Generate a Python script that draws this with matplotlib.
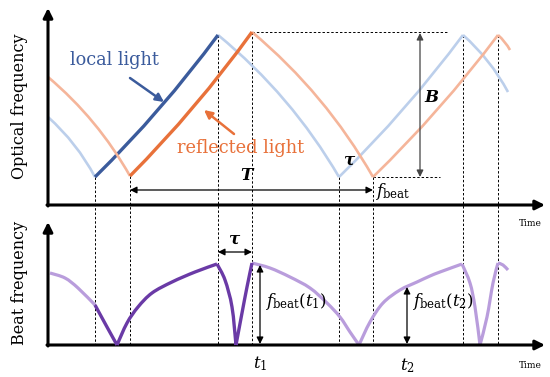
import numpy as np
import matplotlib
matplotlib.use("Agg")
import matplotlib.pyplot as plt
from matplotlib.path import Path
from matplotlib.patches import PathPatch

plt.rcParams['font.family'] = ['DejaVu Serif']
plt.rcParams['mathtext.fontset'] = 'dejavuserif'

# turning points of the two optical-frequency sweeps (time, frequency), picture units
local_t = [48, 95, 218, 339, 463, 508]
local_f = [117, 177, 35, 177, 35, 92]
refl_t = [48, 130, 252, 373, 498, 510]
refl_f = [77, 176, 32, 177, 35, 50]
local_hl = 1   # index of the highlighted segment
refl_hl = 1

# beat frequency trace
beat1_t = [50, 65, 78, 95]
beat1_f = [273, 278, 288, 305]
beat2_t = [95, 107, 117, 127, 138, 152, 172, 195, 217, 225, 232, 236, 242, 247, 252]
beat2_f = [305, 327, 345, 323, 307, 293, 282, 272, 264, 280, 307, 345, 313, 287, 263]
beat3_t = [252, 270, 290, 310, 327, 340, 350, 359, 370, 383, 400, 417, 430, 440, 462,
           470, 475, 480, 487, 493, 498, 503, 508]
beat3_f = [263, 268, 277, 288, 303, 317, 332, 345, 322, 303, 290, 282, 276, 272, 264,
           283, 307, 345, 317, 283, 263, 265, 270]

# markers
drop_t = [95, 130, 218, 252, 339, 373, 463, 498]
drop_f = [177, 176, 35, 32, 177, 177, 35, 35]
t1, t2 = 260, 407

BLUE, LBLUE = '#3b5b9c', '#bccfeb'
ORANGE, LORANGE = '#e8713a', '#f5b59a'
PURPLE, LPURPLE = '#6a3aa6', '#b99ddc'

fig = plt.figure(figsize=(5.5, 3.77), dpi=100)
ax = fig.add_axes([0, 0, 1, 1])
ax.set_xlim(0, 550)
ax.set_ylim(377, 0)
ax.axis('off')


def bow_seg(p0, p1, color, lw):
    dx, dy = p1[0] - p0[0], p1[1] - p0[1]
    bow = 0.09 if dy > 0 else -0.04
    c = ((p0[0] + p1[0]) / 2 + bow * dy, (p0[1] + p1[1]) / 2 - bow * dx)
    pth = Path([p0, c, p1], [Path.MOVETO, Path.CURVE3, Path.CURVE3])
    ax.add_patch(PathPatch(pth, fill=False, edgecolor=color, lw=lw, capstyle='butt', zorder=3))


def sweep(ts, fs, hl, dark, light):
    for i in range(len(ts) - 1):
        if i == hl:
            continue
        bow_seg((ts[i], fs[i]), (ts[i + 1], fs[i + 1]), light, 1.9)
    bow_seg((ts[hl], fs[hl]), (ts[hl + 1], fs[hl + 1]), dark, 2.4)


def smooth_trace(ts, fs, color, lw, z):
    # split at the corners (local extrema) and run a Catmull-Rom path through each arc
    pts = np.column_stack([ts, fs]).astype(float)
    cuts = [0]
    for i in range(1, len(pts) - 1):
        if (fs[i] - fs[i - 1]) * (fs[i + 1] - fs[i]) < 0:
            cuts.append(i)
    cuts.append(len(pts) - 1)
    verts, codes = [], []
    for a, b in zip(cuts[:-1], cuts[1:]):
        arc = pts[a:b + 1]
        ext = np.vstack([arc[0], arc, arc[-1]])
        verts.append(arc[0])
        codes.append(Path.MOVETO)
        for k in range(1, len(ext) - 2):
            p0, p1, p2, p3 = ext[k - 1], ext[k], ext[k + 1], ext[k + 2]
            verts += [p1 + (p2 - p0) / 6, p2 - (p3 - p1) / 6, p2]
            codes += [Path.CURVE4] * 3
    ax.add_patch(PathPatch(Path(verts, codes), fill=False, edgecolor=color, lw=lw,
                           joinstyle='round', capstyle='butt', zorder=z))


sweep(local_t, local_f, local_hl, BLUE, LBLUE)
sweep(refl_t, refl_f, refl_hl, ORANGE, LORANGE)

smooth_trace(beat1_t, beat1_f, LPURPLE, 2.3, 3)
smooth_trace(beat3_t, beat3_f, LPURPLE, 2.3, 3)
smooth_trace(beat2_t, beat2_f, PURPLE, 2.4, 4)

# dashed guides
for t, f in zip(drop_t, drop_f):
    ax.plot([t, t], [f, 345], color='k', lw=0.7, ls=(0, (2.5, 2)), zorder=1)
ax.plot([252, 448], [32, 32], color='k', lw=0.7, ls=(0, (2.5, 2)), zorder=1)
ax.plot([373, 440], [177, 177], color='k', lw=0.7, ls=(0, (2.5, 2)), zorder=1)

# axes
axp = dict(arrowstyle='-|>', color='k', lw=2.2, mutation_scale=14, shrinkA=0, shrinkB=0)
ax.annotate('', xy=(48, 8), xytext=(48, 206), arrowprops=axp)
ax.annotate('', xy=(545, 205), xytext=(47, 205), arrowprops=axp)
ax.annotate('', xy=(48, 222), xytext=(48, 346), arrowprops=axp)
ax.annotate('', xy=(545, 345), xytext=(47, 345), arrowprops=axp)

dbl = dict(arrowstyle='<|-|>', color='k', lw=0.9, mutation_scale=10, shrinkA=0, shrinkB=0)
ax.annotate('', xy=(130, 190), xytext=(373, 190), arrowprops=dbl)
ax.annotate('', xy=(420, 33), xytext=(420, 177), arrowprops=dict(dbl, color='#444444'))
ax.annotate('', xy=(218, 252), xytext=(252, 252), arrowprops=dbl)
ax.annotate('', xy=(t1, 265), xytext=(t1, 344), arrowprops=dbl)
ax.annotate('', xy=(t2, 287), xytext=(t2, 344), arrowprops=dbl)

# pointer arrows for the labels
ax.annotate('', xy=(164, 102), xytext=(130, 78),
            arrowprops=dict(arrowstyle='-|>', color=BLUE, lw=1.8, mutation_scale=12, shrinkA=0, shrinkB=0))
ax.annotate('', xy=(204, 110), xytext=(234, 134),
            arrowprops=dict(arrowstyle='-|>', color=ORANGE, lw=1.8, mutation_scale=12, shrinkA=0, shrinkB=0))

# texts
ax.text(20, 106, 'Optical frequency', rotation=90, ha='center', va='center', fontsize=11.5)
ax.text(20, 283, 'Beat frequency', rotation=90, ha='center', va='center', fontsize=11.5)
ax.text(70, 60, 'local light', color=BLUE, ha='left', va='center', fontsize=12.8)
ax.text(177, 148, 'reflected light', color=ORANGE, ha='left', va='center', fontsize=12.8)
ax.text(248, 176, r'$\boldsymbol{T}$', ha='center', va='center', fontsize=12)
ax.text(432, 98, r'$\boldsymbol{B}$', ha='center', va='center', fontsize=12)
ax.text(350, 161, r'$\boldsymbol{\tau}$', ha='center', va='center', fontsize=12)
ax.text(235, 240, r'$\boldsymbol{\tau}$', ha='center', va='center', fontsize=12)
ax.text(375, 192, r'$f_{\rm beat}$', ha='left', va='center', fontsize=12)
ax.text(265, 302, r'$f_{\rm beat}(t_1)$', ha='left', va='center', fontsize=12)
ax.text(412, 302, r'$f_{\rm beat}(t_2)$', ha='left', va='center', fontsize=12)
ax.text(t1, 364, r'$t_1$', ha='center', va='center', fontsize=12)
ax.text(t2, 366, r'$t_2$', ha='center', va='center', fontsize=12)
ax.text(530, 224, 'Time', ha='center', va='center', fontsize=6.5)
ax.text(530, 365, 'Time', ha='center', va='center', fontsize=6.5)

fig.savefig('out.png', dpi=100)
